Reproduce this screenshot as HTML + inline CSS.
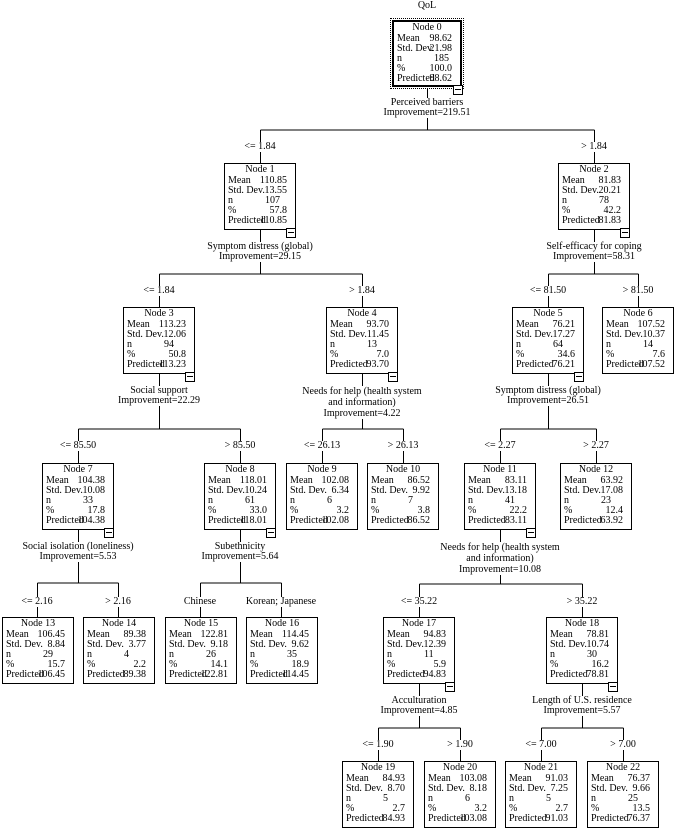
<!DOCTYPE html>
<html><head><meta charset="utf-8"><style>
body{margin:0;width:676px;height:829px;background:#fff;position:relative;overflow:hidden;font-family:"Liberation Serif",serif;font-size:10px;color:#000}
svg{position:absolute;left:0;top:0}
.n{position:absolute;width:72px;height:67px;box-sizing:border-box;border:1px solid #000;background:#fff}
.t{text-align:center;height:12px;line-height:12px;margin-top:0}
.r{position:relative;height:10px;line-height:10px}
.r span{position:absolute;left:3px}
.r b{position:absolute;right:8px;font-weight:normal}
.r i{position:absolute;left:40px;font-style:normal}
.m{position:absolute;right:-1px;bottom:-9px;width:8px;height:8px;border:1px solid #000;background:#fff}
.m:after{content:"";position:absolute;left:1px;right:1px;top:3px;height:1px;background:#000}
.l{position:absolute;transform:translateX(-50%);white-space:nowrap;background:#fff;line-height:10px;text-align:center}
</style></head><body>
<svg width="676" height="829" stroke="#000" stroke-width="1" fill="none">
<path d="M427.5 88V130M260.5 130H594.5M260.5 130V163M594.5 130V163"/>
<path d="M260.5 230V274M159.5 274H362.5M159.5 274V307M362.5 274V307"/>
<path d="M594.5 230V274M548.5 274H638.5M548.5 274V307M638.5 274V307"/>
<path d="M159.5 374V429M78.5 429H240.5M78.5 429V463M240.5 429V463"/>
<path d="M362.5 374V429M322.5 429H403.5M322.5 429V463M403.5 429V463"/>
<path d="M548.5 374V429M500.5 429H596.5M500.5 429V463M596.5 429V463"/>
<path d="M78.5 530V583M37.5 583H118.5M37.5 583V617M118.5 583V617"/>
<path d="M240.5 530V583M200.5 583H281.5M200.5 583V617M281.5 583V617"/>
<path d="M500.5 530V584M419.5 584H582.5M419.5 584V617M582.5 584V617"/>
<path d="M419.5 684V728M378.5 728H460.5M378.5 728V761M460.5 728V761"/>
<path d="M582.5 684V728M541.5 728H623.5M541.5 728V761M623.5 728V761"/>
</svg>

<div class="l" style="left:427px;top:1px">QoL</div>

<div style="position:absolute;left:390px;top:18px;width:74px;height:71px;box-sizing:border-box;border:1px dotted #000;background:#fff">
<div style="position:absolute;left:1px;top:1px;right:1px;bottom:1px;border:2px solid #000">
<div class="t" style="margin-top:0">Node 0</div>
<div class="r"><span>Mean</span><b>98.62</b></div>
<div class="r"><span>Std. Dev.</span><b>21.98</b></div>
<div class="r"><span>n</span><i>185</i></div>
<div class="r"><span>%</span><b>100.0</b></div>
<div class="r"><span>Predicted</span><b>98.62</b></div>
</div><div class="m" style="right:0px;bottom:-7px"></div></div>
<div class="l" style="left:427px;top:98px">Perceived barriers<br>Improvement=219.51</div>
<div class="l" style="left:260px;top:142px">&lt;= 1.84</div>
<div class="l" style="left:594px;top:142px">&gt; 1.84</div>

<div class="n" style="left:224px;top:163px"><div class="t">Node 1</div>
<div class="r"><span>Mean</span><b>110.85</b></div><div class="r"><span>Std. Dev.</span><b>13.55</b></div><div class="r"><span>n</span><i>107</i></div><div class="r"><span>%</span><b>57.8</b></div><div class="r"><span>Predicted</span><b>110.85</b></div><div class="m"></div></div>
<div class="l" style="left:260px;top:242px">Symptom distress (global)<br>Improvement=29.15</div>

<div class="n" style="left:558px;top:163px"><div class="t">Node 2</div>
<div class="r"><span>Mean</span><b>81.83</b></div><div class="r"><span>Std. Dev.</span><b>20.21</b></div><div class="r"><span>n</span><i>78</i></div><div class="r"><span>%</span><b>42.2</b></div><div class="r"><span>Predicted</span><b>81.83</b></div><div class="m"></div></div>
<div class="l" style="left:594px;top:242px">Self-efficacy for coping<br>Improvement=58.31</div>

<div class="l" style="left:159px;top:286px">&lt;= 1.84</div>
<div class="l" style="left:362px;top:286px">&gt; 1.84</div>
<div class="l" style="left:548px;top:286px">&lt;= 81.50</div>
<div class="l" style="left:638px;top:286px">&gt; 81.50</div>

<div class="n" style="left:123px;top:307px"><div class="t">Node 3</div>
<div class="r"><span>Mean</span><b>113.23</b></div><div class="r"><span>Std. Dev.</span><b>12.06</b></div><div class="r"><span>n</span><i>94</i></div><div class="r"><span>%</span><b>50.8</b></div><div class="r"><span>Predicted</span><b>113.23</b></div><div class="m"></div></div>
<div class="l" style="left:159px;top:386px">Social support<br>Improvement=22.29</div>

<div class="n" style="left:326px;top:307px"><div class="t">Node 4</div>
<div class="r"><span>Mean</span><b>93.70</b></div><div class="r"><span>Std. Dev.</span><b>11.45</b></div><div class="r"><span>n</span><i>13</i></div><div class="r"><span>%</span><b>7.0</b></div><div class="r"><span>Predicted</span><b>93.70</b></div><div class="m"></div></div>
<div class="l" style="left:362px;top:386px;line-height:11px">Needs for help (health system<br>and information)<br>Improvement=4.22</div>

<div class="n" style="left:512px;top:307px"><div class="t">Node 5</div>
<div class="r"><span>Mean</span><b>76.21</b></div><div class="r"><span>Std. Dev.</span><b>17.27</b></div><div class="r"><span>n</span><i>64</i></div><div class="r"><span>%</span><b>34.6</b></div><div class="r"><span>Predicted</span><b>76.21</b></div><div class="m"></div></div>
<div class="l" style="left:548px;top:386px">Symptom distress (global)<br>Improvement=26.51</div>

<div class="n" style="left:602px;top:307px"><div class="t">Node 6</div>
<div class="r"><span>Mean</span><b>107.52</b></div><div class="r"><span>Std. Dev.</span><b>10.37</b></div><div class="r"><span>n</span><i>14</i></div><div class="r"><span>%</span><b>7.6</b></div><div class="r"><span>Predicted</span><b>107.52</b></div></div>

<div class="l" style="left:78px;top:441px">&lt;= 85.50</div>
<div class="l" style="left:240px;top:441px">&gt; 85.50</div>
<div class="l" style="left:322px;top:441px">&lt;= 26.13</div>
<div class="l" style="left:403px;top:441px">&gt; 26.13</div>
<div class="l" style="left:500px;top:441px">&lt;= 2.27</div>
<div class="l" style="left:596px;top:441px">&gt; 2.27</div>

<div class="n" style="left:42px;top:463px"><div class="t">Node 7</div>
<div class="r"><span>Mean</span><b>104.38</b></div><div class="r"><span>Std. Dev.</span><b>10.08</b></div><div class="r"><span>n</span><i>33</i></div><div class="r"><span>%</span><b>17.8</b></div><div class="r"><span>Predicted</span><b>104.38</b></div><div class="m"></div></div>
<div class="l" style="left:78px;top:542px">Social isolation (loneliness)<br>Improvement=5.53</div>

<div class="n" style="left:204px;top:463px"><div class="t">Node 8</div>
<div class="r"><span>Mean</span><b>118.01</b></div><div class="r"><span>Std. Dev.</span><b>10.24</b></div><div class="r"><span>n</span><i>61</i></div><div class="r"><span>%</span><b>33.0</b></div><div class="r"><span>Predicted</span><b>118.01</b></div><div class="m"></div></div>
<div class="l" style="left:240px;top:542px">Subethnicity<br>Improvement=5.64</div>

<div class="n" style="left:286px;top:463px"><div class="t">Node 9</div>
<div class="r"><span>Mean</span><b>102.08</b></div><div class="r"><span>Std. Dev.</span><b>6.34</b></div><div class="r"><span>n</span><i>6</i></div><div class="r"><span>%</span><b>3.2</b></div><div class="r"><span>Predicted</span><b>102.08</b></div></div>

<div class="n" style="left:367px;top:463px"><div class="t">Node 10</div>
<div class="r"><span>Mean</span><b>86.52</b></div><div class="r"><span>Std. Dev.</span><b>9.92</b></div><div class="r"><span>n</span><i>7</i></div><div class="r"><span>%</span><b>3.8</b></div><div class="r"><span>Predicted</span><b>86.52</b></div></div>

<div class="n" style="left:464px;top:463px"><div class="t">Node 11</div>
<div class="r"><span>Mean</span><b>83.11</b></div><div class="r"><span>Std. Dev.</span><b>13.18</b></div><div class="r"><span>n</span><i>41</i></div><div class="r"><span>%</span><b>22.2</b></div><div class="r"><span>Predicted</span><b>83.11</b></div><div class="m"></div></div>
<div class="l" style="left:500px;top:542px;line-height:11px">Needs for help (health system<br>and information)<br>Improvement=10.08</div>

<div class="n" style="left:560px;top:463px"><div class="t">Node 12</div>
<div class="r"><span>Mean</span><b>63.92</b></div><div class="r"><span>Std. Dev.</span><b>17.08</b></div><div class="r"><span>n</span><i>23</i></div><div class="r"><span>%</span><b>12.4</b></div><div class="r"><span>Predicted</span><b>63.92</b></div></div>

<div class="l" style="left:37px;top:597px">&lt;= 2.16</div>
<div class="l" style="left:118px;top:597px">&gt; 2.16</div>
<div class="l" style="left:200px;top:597px">Chinese</div>
<div class="l" style="left:281px;top:597px">Korean; Japanese</div>
<div class="l" style="left:419px;top:597px">&lt;= 35.22</div>
<div class="l" style="left:582px;top:597px">&gt; 35.22</div>

<div class="n" style="left:2px;top:617px"><div class="t">Node 13</div>
<div class="r"><span>Mean</span><b>106.45</b></div><div class="r"><span>Std. Dev.</span><b>8.84</b></div><div class="r"><span>n</span><i>29</i></div><div class="r"><span>%</span><b>15.7</b></div><div class="r"><span>Predicted</span><b>106.45</b></div></div>
<div class="n" style="left:83px;top:617px"><div class="t">Node 14</div>
<div class="r"><span>Mean</span><b>89.38</b></div><div class="r"><span>Std. Dev.</span><b>3.77</b></div><div class="r"><span>n</span><i>4</i></div><div class="r"><span>%</span><b>2.2</b></div><div class="r"><span>Predicted</span><b>89.38</b></div></div>
<div class="n" style="left:165px;top:617px"><div class="t">Node 15</div>
<div class="r"><span>Mean</span><b>122.81</b></div><div class="r"><span>Std. Dev.</span><b>9.18</b></div><div class="r"><span>n</span><i>26</i></div><div class="r"><span>%</span><b>14.1</b></div><div class="r"><span>Predicted</span><b>122.81</b></div></div>
<div class="n" style="left:246px;top:617px"><div class="t">Node 16</div>
<div class="r"><span>Mean</span><b>114.45</b></div><div class="r"><span>Std. Dev.</span><b>9.62</b></div><div class="r"><span>n</span><i>35</i></div><div class="r"><span>%</span><b>18.9</b></div><div class="r"><span>Predicted</span><b>114.45</b></div></div>

<div class="n" style="left:383px;top:617px"><div class="t">Node 17</div>
<div class="r"><span>Mean</span><b>94.83</b></div><div class="r"><span>Std. Dev.</span><b>12.39</b></div><div class="r"><span>n</span><i>11</i></div><div class="r"><span>%</span><b>5.9</b></div><div class="r"><span>Predicted</span><b>94.83</b></div><div class="m"></div></div>
<div class="l" style="left:419px;top:696px">Acculturation<br>Improvement=4.85</div>

<div class="n" style="left:546px;top:617px"><div class="t">Node 18</div>
<div class="r"><span>Mean</span><b>78.81</b></div><div class="r"><span>Std. Dev.</span><b>10.74</b></div><div class="r"><span>n</span><i>30</i></div><div class="r"><span>%</span><b>16.2</b></div><div class="r"><span>Predicted</span><b>78.81</b></div><div class="m"></div></div>
<div class="l" style="left:582px;top:696px">Length of U.S. residence<br>Improvement=5.57</div>

<div class="l" style="left:378px;top:740px">&lt;= 1.90</div>
<div class="l" style="left:460px;top:740px">&gt; 1.90</div>
<div class="l" style="left:541px;top:740px">&lt;= 7.00</div>
<div class="l" style="left:623px;top:740px">&gt; 7.00</div>

<div class="n" style="left:342px;top:761px"><div class="t">Node 19</div>
<div class="r"><span>Mean</span><b>84.93</b></div><div class="r"><span>Std. Dev.</span><b>8.70</b></div><div class="r"><span>n</span><i>5</i></div><div class="r"><span>%</span><b>2.7</b></div><div class="r"><span>Predicted</span><b>84.93</b></div></div>
<div class="n" style="left:424px;top:761px"><div class="t">Node 20</div>
<div class="r"><span>Mean</span><b>103.08</b></div><div class="r"><span>Std. Dev.</span><b>8.18</b></div><div class="r"><span>n</span><i>6</i></div><div class="r"><span>%</span><b>3.2</b></div><div class="r"><span>Predicted</span><b>103.08</b></div></div>
<div class="n" style="left:505px;top:761px"><div class="t">Node 21</div>
<div class="r"><span>Mean</span><b>91.03</b></div><div class="r"><span>Std. Dev.</span><b>7.25</b></div><div class="r"><span>n</span><i>5</i></div><div class="r"><span>%</span><b>2.7</b></div><div class="r"><span>Predicted</span><b>91.03</b></div></div>
<div class="n" style="left:587px;top:761px"><div class="t">Node 22</div>
<div class="r"><span>Mean</span><b>76.37</b></div><div class="r"><span>Std. Dev.</span><b>9.66</b></div><div class="r"><span>n</span><i>25</i></div><div class="r"><span>%</span><b>13.5</b></div><div class="r"><span>Predicted</span><b>76.37</b></div></div>
</body></html>
